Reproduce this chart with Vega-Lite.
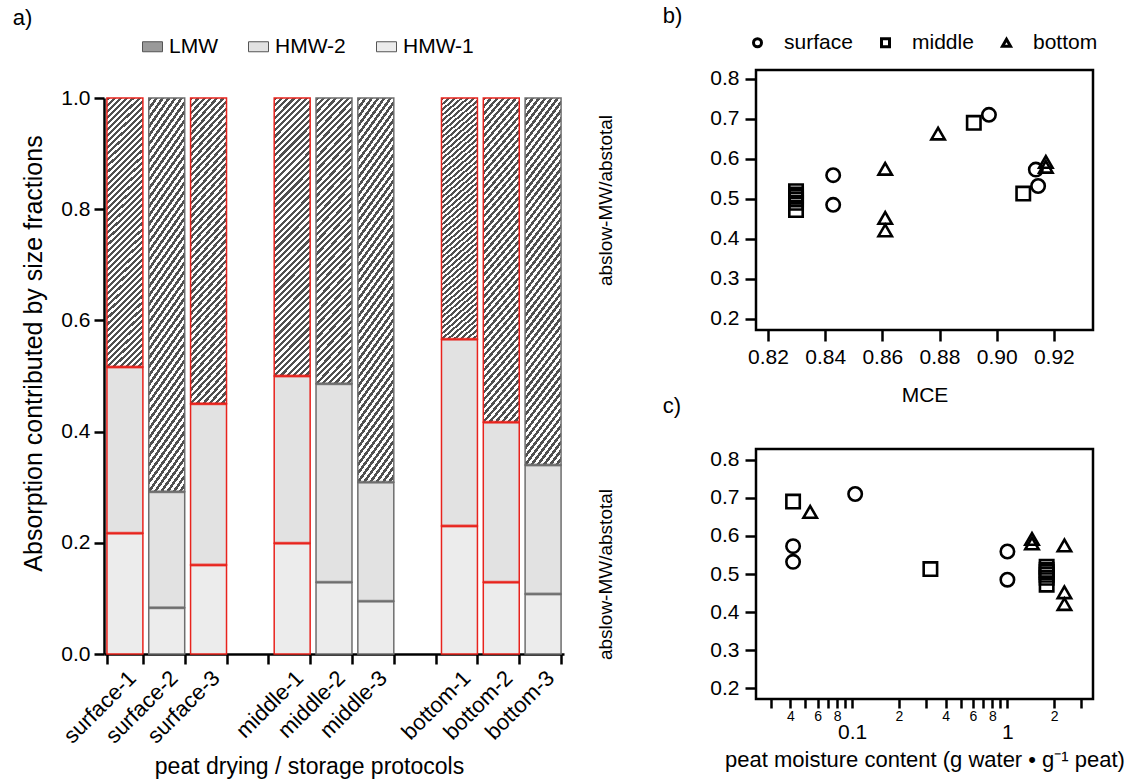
{
  "$schema": "https://vega.github.io/schema/vega-lite/v6.json",
  "background": "white",
  "padding": {"left": 12, "top": 3, "right": 2, "bottom": 0},
  "config": {
    "font": "Liberation Sans",
    "view": {"stroke": null},
    "axis": {"labelFont": "Liberation Sans", "titleFont": "Liberation Sans", "labelColor": "black", "titleColor": "black", "tickColor": "black", "domainColor": "black", "grid": false, "titleFontWeight": "normal", "labelOverlap": false},
    "legend": {"labelFont": "Liberation Sans", "labelColor": "black"},
    "title": {"font": "Liberation Sans", "fontWeight": "normal", "fontSize": 22, "anchor": "start", "color": "black", "frame": "bounds"}
  },
  "datasets": {
    "bars": [
      {"protocol": "surface-1", "fraction": "HMW-1", "value": 0.217, "rank": 1, "highlight": "yes"},
      {"protocol": "surface-1", "fraction": "HMW-2", "value": 0.299, "rank": 2, "highlight": "yes"},
      {"protocol": "surface-1", "fraction": "LMW", "value": 0.484, "rank": 3, "highlight": "yes"},
      {"protocol": "surface-2", "fraction": "HMW-1", "value": 0.083, "rank": 1, "highlight": "no"},
      {"protocol": "surface-2", "fraction": "HMW-2", "value": 0.209, "rank": 2, "highlight": "no"},
      {"protocol": "surface-2", "fraction": "LMW", "value": 0.708, "rank": 3, "highlight": "no"},
      {"protocol": "surface-3", "fraction": "HMW-1", "value": 0.160, "rank": 1, "highlight": "yes"},
      {"protocol": "surface-3", "fraction": "HMW-2", "value": 0.290, "rank": 2, "highlight": "yes"},
      {"protocol": "surface-3", "fraction": "LMW", "value": 0.550, "rank": 3, "highlight": "yes"},
      {"protocol": "middle-1", "fraction": "HMW-1", "value": 0.199, "rank": 1, "highlight": "yes"},
      {"protocol": "middle-1", "fraction": "HMW-2", "value": 0.301, "rank": 2, "highlight": "yes"},
      {"protocol": "middle-1", "fraction": "LMW", "value": 0.500, "rank": 3, "highlight": "yes"},
      {"protocol": "middle-2", "fraction": "HMW-1", "value": 0.129, "rank": 1, "highlight": "no"},
      {"protocol": "middle-2", "fraction": "HMW-2", "value": 0.357, "rank": 2, "highlight": "no"},
      {"protocol": "middle-2", "fraction": "LMW", "value": 0.514, "rank": 3, "highlight": "no"},
      {"protocol": "middle-3", "fraction": "HMW-1", "value": 0.095, "rank": 1, "highlight": "no"},
      {"protocol": "middle-3", "fraction": "HMW-2", "value": 0.214, "rank": 2, "highlight": "no"},
      {"protocol": "middle-3", "fraction": "LMW", "value": 0.691, "rank": 3, "highlight": "no"},
      {"protocol": "bottom-1", "fraction": "HMW-1", "value": 0.230, "rank": 1, "highlight": "yes"},
      {"protocol": "bottom-1", "fraction": "HMW-2", "value": 0.336, "rank": 2, "highlight": "yes"},
      {"protocol": "bottom-1", "fraction": "LMW", "value": 0.434, "rank": 3, "highlight": "yes"},
      {"protocol": "bottom-2", "fraction": "HMW-1", "value": 0.129, "rank": 1, "highlight": "yes"},
      {"protocol": "bottom-2", "fraction": "HMW-2", "value": 0.288, "rank": 2, "highlight": "yes"},
      {"protocol": "bottom-2", "fraction": "LMW", "value": 0.583, "rank": 3, "highlight": "yes"},
      {"protocol": "bottom-3", "fraction": "HMW-1", "value": 0.108, "rank": 1, "highlight": "no"},
      {"protocol": "bottom-3", "fraction": "HMW-2", "value": 0.232, "rank": 2, "highlight": "no"},
      {"protocol": "bottom-3", "fraction": "LMW", "value": 0.660, "rank": 3, "highlight": "no"}
    ],
    "pts": [
      {"layer": "surface", "MCE": 0.8428, "moisture": 1.0, "ratio": 0.559},
      {"layer": "surface", "MCE": 0.8428, "moisture": 1.0, "ratio": 0.485},
      {"layer": "surface", "MCE": 0.8973, "moisture": 0.1045, "ratio": 0.71},
      {"layer": "surface", "MCE": 0.9137, "moisture": 0.0416, "ratio": 0.573},
      {"layer": "surface", "MCE": 0.9145, "moisture": 0.0416, "ratio": 0.532},
      {"layer": "middle", "MCE": 0.8298, "moisture": 1.79, "ratio": 0.519},
      {"layer": "middle", "MCE": 0.8298, "moisture": 1.79, "ratio": 0.511},
      {"layer": "middle", "MCE": 0.8298, "moisture": 1.79, "ratio": 0.505},
      {"layer": "middle", "MCE": 0.8298, "moisture": 1.79, "ratio": 0.498},
      {"layer": "middle", "MCE": 0.8298, "moisture": 1.79, "ratio": 0.49},
      {"layer": "middle", "MCE": 0.8298, "moisture": 1.79, "ratio": 0.472},
      {"layer": "middle", "MCE": 0.892, "moisture": 0.0416, "ratio": 0.69},
      {"layer": "middle", "MCE": 0.9093, "moisture": 0.319, "ratio": 0.513},
      {"layer": "bottom", "MCE": 0.861, "moisture": 2.33, "ratio": 0.575},
      {"layer": "bottom", "MCE": 0.861, "moisture": 2.33, "ratio": 0.452},
      {"layer": "bottom", "MCE": 0.861, "moisture": 2.33, "ratio": 0.421},
      {"layer": "bottom", "MCE": 0.8795, "moisture": 0.0536, "ratio": 0.663},
      {"layer": "bottom", "MCE": 0.9172, "moisture": 1.44, "ratio": 0.592},
      {"layer": "bottom", "MCE": 0.9172, "moisture": 1.44, "ratio": 0.58}
    ]
  },
  "spacing": 31,
  "hconcat": [
    {
      "spacing": -69,
      "vconcat": [
        {
          "width": 460,
          "height": 1,
          "data": {"values": [{}]},
          "mark": {"type": "text"},
          "encoding": {"text": {"value": ""}}
        },
        {
          "width": 460,
          "height": 556,
          "title": {"text": "a)", "dx": -9, "offset": 6},
          "view": {"stroke": null},
          "data": {"name": "bars"},
          "transform": [
            {"stack": "value", "groupby": ["protocol"], "sort": [{"field": "rank", "order": "ascending"}], "as": ["v0", "v1"]}
          ],
          "resolve": {"scale": {"fill": "independent"}},
          "layer": [
            {
              "mark": {"type": "bar", "strokeWidth": 1.5},
              "encoding": {
                "x": {
                  "field": "protocol", "type": "nominal",
                  "scale": {"domain": ["surface-1", "surface-2", "surface-3", "gap1", "middle-1", "middle-2", "middle-3", "gap2", "bottom-1", "bottom-2", "bottom-3"], "paddingInner": 0.14, "paddingOuter": 0.07},
                  "axis": {"title": "peat drying / storage protocols", "titleFontSize": 23, "titlePadding": 9, "titleX": 205, "labelAngle": -45, "labelFontSize": 22, "labelPadding": 3, "labelExpr": "indexof(datum.label, 'gap') >= 0 ? '' : datum.label", "tickBand": "extent", "tickSize": 10, "tickWidth": 2.5, "domainWidth": 2.5}
                },
                "y": {
                  "field": "v0", "type": "quantitative",
                  "scale": {"domain": [0, 1], "nice": false},
                  "axis": {"title": "Absorption contributed by size fractions", "titleFontSize": 25, "titlePadding": 14, "titleY": 255, "values": [0, 0.2, 0.4, 0.6, 0.8, 1], "format": ".1f", "labelFontSize": 21, "labelPadding": 4, "tickSize": 10, "tickWidth": 2.5, "domainWidth": 2.5}
                },
                "y2": {"field": "v1"},
                "fill": {
                  "condition": {
                    "test": "datum.fraction === 'LMW'",
                    "value": {
                      "gradient": "linear", "x1": 0, "y1": 0, "x2": 0.1445, "y2": 1.1112,
                      "stops": [
                        {"offset": 0, "color": "#505050"}, {"offset": 0.01, "color": "#505050"}, {"offset": 0.01, "color": "#fff"}, {"offset": 0.02, "color": "#fff"},
                        {"offset": 0.02, "color": "#505050"}, {"offset": 0.03, "color": "#505050"}, {"offset": 0.03, "color": "#fff"}, {"offset": 0.04, "color": "#fff"},
                        {"offset": 0.04, "color": "#505050"}, {"offset": 0.05, "color": "#505050"}, {"offset": 0.05, "color": "#fff"}, {"offset": 0.06, "color": "#fff"},
                        {"offset": 0.06, "color": "#505050"}, {"offset": 0.07, "color": "#505050"}, {"offset": 0.07, "color": "#fff"}, {"offset": 0.08, "color": "#fff"},
                        {"offset": 0.08, "color": "#505050"}, {"offset": 0.09, "color": "#505050"}, {"offset": 0.09, "color": "#fff"}, {"offset": 0.10, "color": "#fff"},
                        {"offset": 0.10, "color": "#505050"}, {"offset": 0.11, "color": "#505050"}, {"offset": 0.11, "color": "#fff"}, {"offset": 0.12, "color": "#fff"},
                        {"offset": 0.12, "color": "#505050"}, {"offset": 0.13, "color": "#505050"}, {"offset": 0.13, "color": "#fff"}, {"offset": 0.14, "color": "#fff"},
                        {"offset": 0.14, "color": "#505050"}, {"offset": 0.15, "color": "#505050"}, {"offset": 0.15, "color": "#fff"}, {"offset": 0.16, "color": "#fff"},
                        {"offset": 0.16, "color": "#505050"}, {"offset": 0.17, "color": "#505050"}, {"offset": 0.17, "color": "#fff"}, {"offset": 0.18, "color": "#fff"},
                        {"offset": 0.18, "color": "#505050"}, {"offset": 0.19, "color": "#505050"}, {"offset": 0.19, "color": "#fff"}, {"offset": 0.20, "color": "#fff"},
                        {"offset": 0.20, "color": "#505050"}, {"offset": 0.21, "color": "#505050"}, {"offset": 0.21, "color": "#fff"}, {"offset": 0.22, "color": "#fff"},
                        {"offset": 0.22, "color": "#505050"}, {"offset": 0.23, "color": "#505050"}, {"offset": 0.23, "color": "#fff"}, {"offset": 0.24, "color": "#fff"},
                        {"offset": 0.24, "color": "#505050"}, {"offset": 0.25, "color": "#505050"}, {"offset": 0.25, "color": "#fff"}, {"offset": 0.26, "color": "#fff"},
                        {"offset": 0.26, "color": "#505050"}, {"offset": 0.27, "color": "#505050"}, {"offset": 0.27, "color": "#fff"}, {"offset": 0.28, "color": "#fff"},
                        {"offset": 0.28, "color": "#505050"}, {"offset": 0.29, "color": "#505050"}, {"offset": 0.29, "color": "#fff"}, {"offset": 0.30, "color": "#fff"},
                        {"offset": 0.30, "color": "#505050"}, {"offset": 0.31, "color": "#505050"}, {"offset": 0.31, "color": "#fff"}, {"offset": 0.32, "color": "#fff"},
                        {"offset": 0.32, "color": "#505050"}, {"offset": 0.33, "color": "#505050"}, {"offset": 0.33, "color": "#fff"}, {"offset": 0.34, "color": "#fff"},
                        {"offset": 0.34, "color": "#505050"}, {"offset": 0.35, "color": "#505050"}, {"offset": 0.35, "color": "#fff"}, {"offset": 0.36, "color": "#fff"},
                        {"offset": 0.36, "color": "#505050"}, {"offset": 0.37, "color": "#505050"}, {"offset": 0.37, "color": "#fff"}, {"offset": 0.38, "color": "#fff"},
                        {"offset": 0.38, "color": "#505050"}, {"offset": 0.39, "color": "#505050"}, {"offset": 0.39, "color": "#fff"}, {"offset": 0.40, "color": "#fff"},
                        {"offset": 0.40, "color": "#505050"}, {"offset": 0.41, "color": "#505050"}, {"offset": 0.41, "color": "#fff"}, {"offset": 0.42, "color": "#fff"},
                        {"offset": 0.42, "color": "#505050"}, {"offset": 0.43, "color": "#505050"}, {"offset": 0.43, "color": "#fff"}, {"offset": 0.44, "color": "#fff"},
                        {"offset": 0.44, "color": "#505050"}, {"offset": 0.45, "color": "#505050"}, {"offset": 0.45, "color": "#fff"}, {"offset": 0.46, "color": "#fff"},
                        {"offset": 0.46, "color": "#505050"}, {"offset": 0.47, "color": "#505050"}, {"offset": 0.47, "color": "#fff"}, {"offset": 0.48, "color": "#fff"},
                        {"offset": 0.48, "color": "#505050"}, {"offset": 0.49, "color": "#505050"}, {"offset": 0.49, "color": "#fff"}, {"offset": 0.50, "color": "#fff"},
                        {"offset": 0.50, "color": "#505050"}, {"offset": 0.51, "color": "#505050"}, {"offset": 0.51, "color": "#fff"}, {"offset": 0.52, "color": "#fff"},
                        {"offset": 0.52, "color": "#505050"}, {"offset": 0.53, "color": "#505050"}, {"offset": 0.53, "color": "#fff"}, {"offset": 0.54, "color": "#fff"},
                        {"offset": 0.54, "color": "#505050"}, {"offset": 0.55, "color": "#505050"}, {"offset": 0.55, "color": "#fff"}, {"offset": 0.56, "color": "#fff"},
                        {"offset": 0.56, "color": "#505050"}, {"offset": 0.57, "color": "#505050"}, {"offset": 0.57, "color": "#fff"}, {"offset": 0.58, "color": "#fff"},
                        {"offset": 0.58, "color": "#505050"}, {"offset": 0.59, "color": "#505050"}, {"offset": 0.59, "color": "#fff"}, {"offset": 0.60, "color": "#fff"},
                        {"offset": 0.60, "color": "#505050"}, {"offset": 0.61, "color": "#505050"}, {"offset": 0.61, "color": "#fff"}, {"offset": 0.62, "color": "#fff"},
                        {"offset": 0.62, "color": "#505050"}, {"offset": 0.63, "color": "#505050"}, {"offset": 0.63, "color": "#fff"}, {"offset": 0.64, "color": "#fff"},
                        {"offset": 0.64, "color": "#505050"}, {"offset": 0.65, "color": "#505050"}, {"offset": 0.65, "color": "#fff"}, {"offset": 0.66, "color": "#fff"},
                        {"offset": 0.66, "color": "#505050"}, {"offset": 0.67, "color": "#505050"}, {"offset": 0.67, "color": "#fff"}, {"offset": 0.68, "color": "#fff"},
                        {"offset": 0.68, "color": "#505050"}, {"offset": 0.69, "color": "#505050"}, {"offset": 0.69, "color": "#fff"}, {"offset": 0.70, "color": "#fff"},
                        {"offset": 0.70, "color": "#505050"}, {"offset": 0.71, "color": "#505050"}, {"offset": 0.71, "color": "#fff"}, {"offset": 0.72, "color": "#fff"},
                        {"offset": 0.72, "color": "#505050"}, {"offset": 0.73, "color": "#505050"}, {"offset": 0.73, "color": "#fff"}, {"offset": 0.74, "color": "#fff"},
                        {"offset": 0.74, "color": "#505050"}, {"offset": 0.75, "color": "#505050"}, {"offset": 0.75, "color": "#fff"}, {"offset": 0.76, "color": "#fff"},
                        {"offset": 0.76, "color": "#505050"}, {"offset": 0.77, "color": "#505050"}, {"offset": 0.77, "color": "#fff"}, {"offset": 0.78, "color": "#fff"},
                        {"offset": 0.78, "color": "#505050"}, {"offset": 0.79, "color": "#505050"}, {"offset": 0.79, "color": "#fff"}, {"offset": 0.80, "color": "#fff"},
                        {"offset": 0.80, "color": "#505050"}, {"offset": 0.81, "color": "#505050"}, {"offset": 0.81, "color": "#fff"}, {"offset": 0.82, "color": "#fff"},
                        {"offset": 0.82, "color": "#505050"}, {"offset": 0.83, "color": "#505050"}, {"offset": 0.83, "color": "#fff"}, {"offset": 0.84, "color": "#fff"},
                        {"offset": 0.84, "color": "#505050"}, {"offset": 0.85, "color": "#505050"}, {"offset": 0.85, "color": "#fff"}, {"offset": 0.86, "color": "#fff"},
                        {"offset": 0.86, "color": "#505050"}, {"offset": 0.87, "color": "#505050"}, {"offset": 0.87, "color": "#fff"}, {"offset": 0.88, "color": "#fff"},
                        {"offset": 0.88, "color": "#505050"}, {"offset": 0.89, "color": "#505050"}, {"offset": 0.89, "color": "#fff"}, {"offset": 0.90, "color": "#fff"},
                        {"offset": 0.90, "color": "#505050"}, {"offset": 0.91, "color": "#505050"}, {"offset": 0.91, "color": "#fff"}, {"offset": 0.92, "color": "#fff"},
                        {"offset": 0.92, "color": "#505050"}, {"offset": 0.93, "color": "#505050"}, {"offset": 0.93, "color": "#fff"}, {"offset": 0.94, "color": "#fff"},
                        {"offset": 0.94, "color": "#505050"}, {"offset": 0.95, "color": "#505050"}, {"offset": 0.95, "color": "#fff"}, {"offset": 0.96, "color": "#fff"},
                        {"offset": 0.96, "color": "#505050"}, {"offset": 0.97, "color": "#505050"}, {"offset": 0.97, "color": "#fff"}, {"offset": 0.98, "color": "#fff"},
                        {"offset": 0.98, "color": "#505050"}, {"offset": 0.99, "color": "#505050"}, {"offset": 0.99, "color": "#fff"}, {"offset": 1, "color": "#fff"}
                      ]
                    }
                  },
                  "field": "fraction", "type": "nominal",
                  "scale": {"domain": ["LMW", "HMW-2", "HMW-1"], "range": ["#9a9a9a", "#e2e2e2", "#ececec"]},
                  "legend": {"orient": "none", "legendX": 38, "legendY": -62, "direction": "horizontal", "title": null, "symbolType": "M-1,-0.5H1V0.5H-1Z", "symbolSize": 400, "symbolStrokeColor": "#555555", "symbolStrokeWidth": 1, "labelFontSize": 21, "labelOffset": 6, "columnPadding": 28, "padding": 0}
                },
                "stroke": {"field": "highlight", "type": "nominal", "scale": {"domain": ["yes", "no"], "range": ["#e8231d", "#6e6e6e"]}, "legend": null}
              }
            },
            {
              "transform": [{"filter": "datum.fraction !== 'LMW'"}],
              "mark": {"type": "tick", "orient": "horizontal", "thickness": 3, "size": 36},
              "encoding": {
                "x": {"field": "protocol", "type": "nominal"},
                "y": {"field": "v1", "type": "quantitative", "axis": {"title": "Absorption contributed by size fractions"}},
                "fill": {"field": "highlight", "type": "nominal", "scale": {"domain": ["yes", "no"], "range": ["#e8231d", "#6e6e6e"]}, "legend": null}
              }
            }
          ]
        }
      ]
    },
    {
      "spacing": -14,
      "resolve": {"scale": {"shape": "independent"}, "legend": {"shape": "independent"}},
      "vconcat": [
        {
          "width": 337,
          "height": 260,
          "title": {"text": "b)", "dx": 66, "offset": 4},
          "view": {"stroke": "black", "strokeWidth": 2.5},
          "data": {"name": "pts"},
          "mark": {"type": "point", "filled": false, "strokeWidth": 2.6, "size": 180, "color": "black", "opacity": 1},
          "encoding": {
            "x": {
              "field": "MCE", "type": "quantitative",
              "scale": {"domain": [0.8158, 0.9337], "nice": false, "zero": false},
              "axis": {"title": "MCE", "titleFontSize": 21, "titlePadding": 17, "values": [0.82, 0.84, 0.86, 0.88, 0.9, 0.92], "format": ".2f", "labelFontSize": 21, "labelPadding": 5, "tickSize": 11, "tickWidth": 2.5, "domain": false}
            },
            "y": {
              "field": "ratio", "type": "quantitative",
              "scale": {"domain": [0.172, 0.822], "nice": false, "zero": false},
              "axis": {"title": "abslow-MW/abstotal", "titleFontSize": 19, "titlePadding": 94, "values": [0.2, 0.3, 0.4, 0.5, 0.6, 0.7, 0.8], "format": ".1f", "labelFontSize": 21, "labelPadding": 6, "tickSize": 11, "tickWidth": 2.5, "domain": false}
            },
            "shape": {
              "field": "layer", "type": "nominal",
              "scale": {"domain": ["surface", "middle", "bottom"], "range": ["circle", "square", "triangle-up"]},
              "legend": {"orient": "none", "legendX": -9, "legendY": -38, "direction": "horizontal", "title": null, "labelFontSize": 21, "symbolSize": 64, "symbolStrokeWidth": 3, "symbolStrokeColor": "black", "symbolFillColor": "transparent", "symbolOpacity": 1, "labelOffset": 16, "columnPadding": 22, "padding": 0}
            }
          }
        },
        {
          "width": 337,
          "height": 250,
          "title": {"text": "c)", "dx": 66, "offset": 31},
          "view": {"stroke": "black", "strokeWidth": 2.5},
          "data": {"name": "pts"},
          "mark": {"type": "point", "filled": false, "strokeWidth": 2.6, "size": 180, "color": "black", "opacity": 1},
          "encoding": {
            "x": {
              "field": "moisture", "type": "quantitative",
              "scale": {"type": "log", "domain": [0.024, 3.56], "nice": false},
              "axis": {
                "title": "peat moisture content (g water • g⁻¹ peat)", "titleFontSize": 22, "titlePadding": 7,
                "values": [0.03, 0.04, 0.05, 0.06, 0.07, 0.08, 0.09, 0.1, 0.2, 0.3, 0.4, 0.5, 0.6, 0.7, 0.8, 0.9, 1, 2, 3],
                "labelExpr": "datum.value == 0.1 ? ['', '0.1'] : datum.value == 1 ? ['', '1'] : (datum.value == 0.04 || datum.value == 0.4) ? '4' : (datum.value == 0.06 || datum.value == 0.6) ? '6' : (datum.value == 0.08 || datum.value == 0.8) ? '8' : (datum.value == 0.2 || datum.value == 2) ? '2' : ''",
                "labelFontSize": {"condition": {"test": "datum.value == 0.1 || datum.value == 1", "value": 21}, "value": 14},
                "labelLineHeight": 12,
                "labelPadding": 1, "tickSize": 9, "tickWidth": 2.5, "domain": false
              }
            },
            "y": {
              "field": "ratio", "type": "quantitative",
              "scale": {"domain": [0.172, 0.828], "nice": false, "zero": false},
              "axis": {"title": "abslow-MW/abstotal", "titleFontSize": 19, "titlePadding": 94, "values": [0.2, 0.3, 0.4, 0.5, 0.6, 0.7, 0.8], "format": ".1f", "labelFontSize": 21, "labelPadding": 6, "tickSize": 11, "tickWidth": 2.5, "domain": false}
            },
            "shape": {"field": "layer", "type": "nominal", "scale": {"domain": ["surface", "middle", "bottom"], "range": ["circle", "square", "triangle-up"]}, "legend": null}
          }
        }
      ]
    }
  ]
}
